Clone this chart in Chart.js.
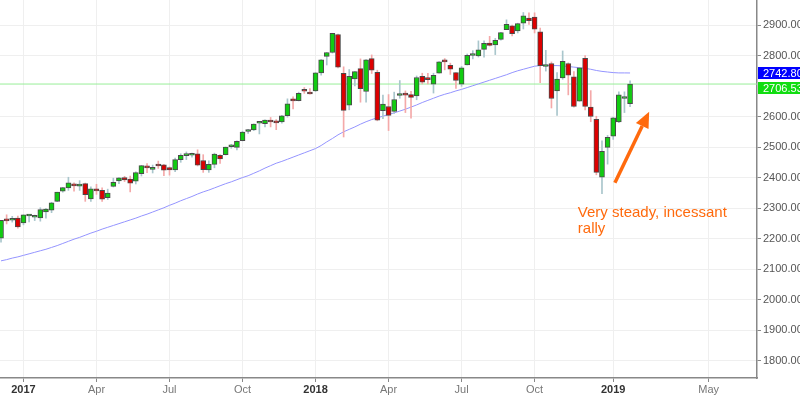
<!DOCTYPE html>
<html>
<head>
<meta charset="utf-8">
<script src="https://cdn.jsdelivr.net/npm/chart.js@4.4.1/dist/chart.umd.min.js"></script>
<style>
  html, body { margin: 0; padding: 0; background: #fff; }
  #wrap { width: 800px; height: 395px; }
</style>
</head>
<body>
<div id="wrap"><canvas id="spxChart" width="800" height="395"></canvas></div>
<script>
// weekly candles, Dec 2016 -> Jan 2019 (one entry per week)
const opens = [
  2201, 2259, 2260, 2267, 2251, 2274, 2270, 2268, 2287, 2293, 2322, 2355, 2366, 2379, 2372, 2380,
  2330, 2363, 2358, 2334, 2371, 2389, 2400, 2395, 2388, 2413, 2438, 2427, 2442, 2442, 2433, 2425,
  2459, 2472, 2473, 2478, 2456, 2425, 2443, 2473, 2475, 2501, 2499, 2521, 2551, 2556, 2578, 2577,
  2588, 2580, 2582, 2603, 2658, 2652, 2689, 2680, 2684, 2743, 2797, 2810, 2869, 2742, 2637, 2723,
  2757, 2682, 2790, 2745, 2619, 2633, 2617, 2669, 2674, 2672, 2668, 2732, 2726, 2706, 2742, 2780,
  2768, 2744, 2706, 2769, 2800, 2799, 2820, 2841, 2835, 2853, 2885, 2897, 2881, 2906, 2923, 2926,
  2878, 2764, 2774, 2684, 2727, 2774, 2730, 2650, 2791, 2631, 2591, 2401, 2499, 2536, 2582, 2659,
  2642
];
const highs = [
  2260, 2278, 2273, 2274, 2278, 2279, 2277, 2301, 2299, 2319, 2352, 2368, 2401, 2383, 2390, 2382,
  2370, 2378, 2366, 2362, 2398, 2400, 2404, 2405, 2419, 2440, 2446, 2441, 2454, 2443, 2435, 2464,
  2478, 2484, 2480, 2491, 2475, 2455, 2480, 2475, 2500, 2509, 2520, 2552, 2558, 2576, 2583, 2589,
  2597, 2590, 2604, 2658, 2665, 2680, 2695, 2692, 2744, 2787, 2810, 2873, 2870, 2763, 2754, 2748,
  2789, 2787, 2802, 2752, 2670, 2672, 2680, 2718, 2684, 2683, 2733, 2742, 2742, 2742, 2780, 2790,
  2775, 2744, 2764, 2805, 2816, 2848, 2848, 2863, 2856, 2876, 2917, 2900, 2906, 2941, 2940, 2940,
  2890, 2817, 2779, 2744, 2815, 2776, 2747, 2761, 2800, 2685, 2601, 2520, 2538, 2598, 2681, 2681,
  2717
];
const lows = [
  2188, 2248, 2254, 2234, 2245, 2255, 2259, 2257, 2267, 2285, 2321, 2352, 2358, 2355, 2358, 2322,
  2322, 2345, 2322, 2328, 2369, 2380, 2387, 2353, 2379, 2405, 2416, 2415, 2430, 2406, 2408, 2419,
  2450, 2459, 2467, 2438, 2417, 2417, 2432, 2446, 2474, 2496, 2491, 2520, 2545, 2554, 2543, 2566,
  2566, 2557, 2578, 2598, 2625, 2651, 2676, 2673, 2682, 2736, 2769, 2808, 2759, 2533, 2622, 2700,
  2647, 2647, 2741, 2586, 2593, 2554, 2610, 2660, 2613, 2595, 2655, 2707, 2707, 2677, 2742, 2753,
  2738, 2692, 2699, 2769, 2789, 2795, 2795, 2831, 2803, 2850, 2885, 2864, 2874, 2887, 2902, 2874,
  2711, 2749, 2628, 2604, 2722, 2671, 2631, 2650, 2622, 2583, 2409, 2347, 2444, 2525, 2580, 2613,
  2632
];
const closes = [
  2260, 2258, 2263, 2238, 2278, 2275, 2271, 2295, 2297, 2317, 2352, 2367, 2383, 2373, 2379, 2344,
  2363, 2356, 2329, 2349, 2384, 2399, 2392, 2382, 2416, 2439, 2432, 2433, 2438, 2424, 2425, 2459,
  2473, 2472, 2477, 2441, 2426, 2443, 2477, 2461, 2500, 2502, 2519, 2549, 2553, 2575, 2581, 2588,
  2582, 2579, 2602, 2642, 2651, 2676, 2683, 2674, 2743, 2786, 2810, 2873, 2762, 2620, 2732, 2747,
  2691, 2786, 2752, 2588, 2641, 2604, 2656, 2670, 2670, 2663, 2728, 2713, 2721, 2735, 2779, 2779,
  2755, 2718, 2760, 2801, 2802, 2819, 2840, 2833, 2850, 2875, 2902, 2872, 2905, 2930, 2914, 2886,
  2767, 2768, 2659, 2723, 2781, 2736, 2633, 2760, 2633, 2600, 2417, 2486, 2532, 2596, 2671, 2665,
  2706.53
];
// moving average (blue line), same weeks
const movingAvg = [
  2127, 2131, 2136, 2140, 2145, 2150, 2155, 2160, 2165, 2171, 2177, 2184, 2191, 2198, 2204, 2211,
  2218, 2224, 2231, 2237, 2243, 2249, 2255, 2261, 2267, 2274, 2280, 2287, 2294, 2301, 2309, 2316,
  2324, 2331, 2338, 2346, 2353, 2359, 2366, 2373, 2380, 2386, 2393, 2400, 2406, 2414, 2422, 2431,
  2439, 2447, 2453, 2460, 2467, 2474, 2481, 2488, 2495, 2505, 2517, 2528, 2540, 2550, 2558, 2566,
  2575, 2583, 2590, 2596, 2601, 2607, 2612, 2618, 2624, 2631, 2638, 2646, 2653, 2660, 2667, 2673,
  2678, 2684, 2689, 2695, 2701, 2707, 2713, 2719, 2725, 2731, 2737, 2744, 2750, 2755, 2760, 2765,
  2767, 2768, 2767, 2767, 2766, 2764, 2762, 2760, 2758, 2755, 2751, 2748, 2746, 2744, 2743, 2743,
  2742.8
];
const lastPrice = 2706.53;
const lastAvg = 2742.80;

// axis labels
const xTickWeeks = [4, 17, 30, 43, 56, 69, 82, 95, 109, 126];
const xTickLabels = ["2017", "Apr", "Jul", "Oct", "2018", "Apr", "Jul", "Oct", "2019", "May"];
const yTickValues = [1800, 1900, 2000, 2100, 2200, 2300, 2400, 2500, 2600, 2800, 2900];

// note + arrow, in week / price units
const noteLines = ["Very steady, incessant", "rally"];
const noteAt = { x: 102.7, y: 2272 };
const arrowFrom = { x: 109.3, y: 2383 };
const arrowTo = { x: 115.4, y: 2616 };

const xMin = -0.18, xMax = 134.6;
const yMin = 1743, yMax = 2982;

const up = closes.map((c, i) => c >= opens[i]);
const bodyData = opens.map((o, i) => ({ x: i, y: [o, closes[i]] }));
const wickData = lows.map((l, i) => ({ x: i, y: [l, highs[i]] }));
const maData = movingAvg.map((v, i) => ({ x: i, y: v }));

Chart.defaults.font.family = 'Arial, "Liberation Sans", sans-serif';

const sidePlugin = {
  id: "sideBits",
  afterDatasetsDraw(chart) {
    const ctx = chart.ctx;
    const xs = chart.scales.x, ys = chart.scales.y;
    ctx.save();
    // arrow
    const x1 = xs.getPixelForValue(arrowFrom.x), y1 = ys.getPixelForValue(arrowFrom.y);
    const x2 = xs.getPixelForValue(arrowTo.x), y2 = ys.getPixelForValue(arrowTo.y);
    const ang = Math.atan2(y2 - y1, x2 - x1);
    const headLen = 16, headW = 7;
    const bx = x2 - headLen * Math.cos(ang), by = y2 - headLen * Math.sin(ang);
    ctx.strokeStyle = "#ff6a0d";
    ctx.fillStyle = "#ff6a0d";
    ctx.lineWidth = 3.5;
    ctx.beginPath();
    ctx.moveTo(x1, y1);
    ctx.lineTo(bx, by);
    ctx.stroke();
    ctx.beginPath();
    ctx.moveTo(x2, y2);
    ctx.lineTo(bx + headW * Math.sin(ang), by - headW * Math.cos(ang));
    ctx.lineTo(bx - headW * Math.sin(ang), by + headW * Math.cos(ang));
    ctx.closePath();
    ctx.fill();
    // note text
    ctx.font = '15px Arial, "Liberation Sans", sans-serif';
    ctx.textBaseline = "alphabetic";
    ctx.textAlign = "left";
    const tx = xs.getPixelForValue(noteAt.x), ty = ys.getPixelForValue(noteAt.y);
    noteLines.forEach((t, i) => ctx.fillText(t, tx, ty + i * 16));
    ctx.restore();
  },
  afterDraw(chart) {
    const ctx = chart.ctx;
    const ys = chart.scales.y;
    const left = chart.chartArea.right + 1;
    const boxH = 12;
    const yAvg = Math.round(ys.getPixelForValue(lastAvg));
    const avgTop = yAvg - boxH / 2;
    const priceTop = avgTop + boxH + 3;
    ctx.save();
    ctx.font = '11px Arial, "Liberation Sans", sans-serif';
    ctx.textBaseline = "middle";
    ctx.textAlign = "left";
    ctx.fillStyle = "#0000ff";
    ctx.fillRect(left, avgTop, chart.width - left, boxH);
    ctx.fillStyle = "#11dd11";
    ctx.fillRect(left, priceTop, chart.width - left, boxH);
    ctx.fillStyle = "#fff";
    ctx.fillText(lastAvg.toFixed(2), left + 5, avgTop + boxH / 2 + 1);
    ctx.fillText(lastPrice.toFixed(2), left + 5, priceTop + boxH / 2 + 1);
    ctx.restore();
  }
};

new Chart(document.getElementById("spxChart"), {
  type: "bar",
  data: {
    datasets: [
      {
        label: "body",
        data: bodyData,
        backgroundColor: up.map(u => (u ? "#11cc11" : "#dd0000")),
        borderColor: "#4a4a4a",
        borderWidth: 1,
        borderSkipped: false,
        barThickness: 5,
        minBarLength: 2,
        grouped: false
      },
      {
        label: "wick",
        data: wickData,
        backgroundColor: up.map(u => (u ? "#a9c6cc" : "#f4a9a9")),
        borderWidth: 0,
        barThickness: 1,
        grouped: false
      },
      {
        type: "line",
        label: "avg",
        data: maData,
        borderColor: "#9494ff",
        borderWidth: 1,
        pointRadius: 0,
        tension: 0
      },
      {
        type: "line",
        label: "last",
        data: [{ x: xMin, y: lastPrice }, { x: xMax, y: lastPrice }],
        borderColor: "#99ee99",
        borderWidth: 1,
        pointRadius: 0
      }
    ]
  },
  options: {
    responsive: false,
    animation: false,
    layout: { padding: 0 },
    plugins: { legend: { display: false }, tooltip: { enabled: false } },
    scales: {
      x: {
        type: "linear",
        min: xMin,
        max: xMax,
        bounds: "data",
        offset: false,
        grid: { color: "#efefef", offset: false, tickLength: 4, tickColor: "#888" },
        border: { color: "#888", width: 1.5 },
        afterBuildTicks: scale => {
          scale.ticks = xTickWeeks.map(v => ({ value: v }));
        },
        afterFit: scale => {
          scale.height = 17;
          scale.paddingLeft = 0;
          scale.paddingRight = 0;
        },
        ticks: {
          autoSkip: false,
          maxRotation: 0,
          padding: 1,
          font: ctx => ({ size: 11, weight: /^\d+$/.test(xTickLabels[ctx.index]) ? "bold" : "normal" }),
          color: ctx => (/^\d+$/.test(xTickLabels[ctx.index]) ? "#333" : "#777"),
          callback: (v, i) => xTickLabels[i]
        }
      },
      y: {
        type: "linear",
        position: "right",
        min: yMin,
        max: yMax,
        bounds: "data",
        grid: { color: "#efefef", tickLength: 4, tickColor: "#888" },
        border: { color: "#888", width: 1.5 },
        afterBuildTicks: scale => {
          scale.ticks = yTickValues.map(v => ({ value: v }));
        },
        afterFit: scale => {
          scale.width = 43;
          scale.paddingTop = 0;
          scale.paddingBottom = 0;
        },
        ticks: {
          padding: 2,
          font: { size: 11 },
          color: "#555",
          callback: v => Number(v).toFixed(2)
        }
      }
    }
  },
  plugins: [sidePlugin]
});
</script>
</body>
</html>
